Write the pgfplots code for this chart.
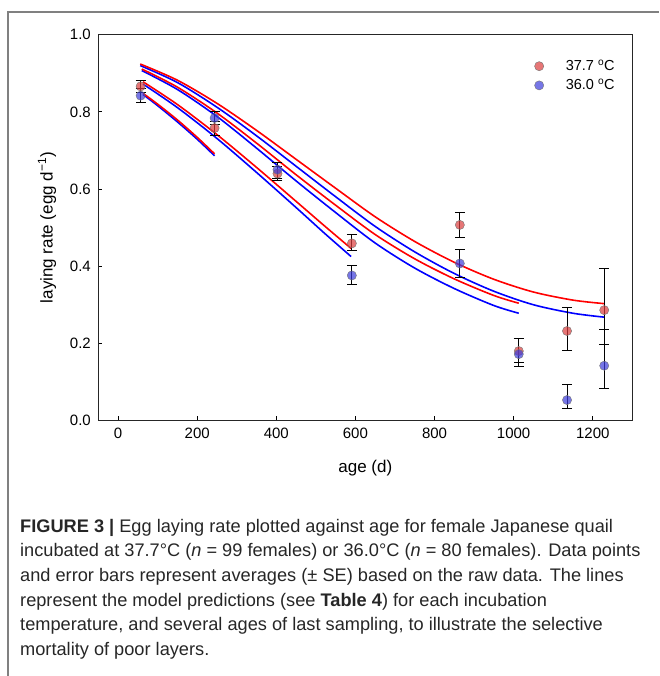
\documentclass[border=0pt]{standalone}
\usepackage{fontspec}
\setmainfont{Liberation Sans}
\usepackage{pgfplots}
\pgfplotsset{compat=1.18}

\definecolor{ptred}{RGB}{220,60,60}
\definecolor{ptblue}{RGB}{60,60,220}

\begin{document}
\begin{tikzpicture}[x=1pt,y=1pt]
\path[use as bounding box] (0,0) rectangle (659,676);
% page frame
\draw[black!50, line width=1.2pt] (8,0) -- (8,664) -- (659,664);

\begin{axis}[
  at={(98.3pt,255.5pt)}, anchor=south west,
  scale only axis, width=534pt, height=385.8pt,
  xmin=-50, xmax=1300, ymin=0, ymax=1,
  xtick={0,200,400,600,800,1000,1200},
  ytick={0,0.2,0.4,0.6,0.8,1.0},
  xtick pos=left, ytick pos=left,
  tick align=inside, major tick length=4pt,
  tick style={black, line width=0.8pt},
  axis line style={black!85, line width=1pt},
  /pgf/number format/assume math mode=true,
  /pgf/number format/1000 sep={},
  yticklabel style={/pgf/number format/.cd, fixed, fixed zerofill, precision=1,
    /tikz/.cd, xshift=-4pt},
  xticklabel style={yshift=-4pt},
  tick label style={font=\fontsize{15}{17}\selectfont},
  xlabel={age (d)},
  ylabel={laying rate (egg d\textsuperscript{−1})},
  label style={font=\fontsize{17}{20}\selectfont},
  xlabel style={at={(axis description cs:0.5,-0.123)}, anchor=center},
  ylabel style={at={(axis description cs:-0.096,0.5)}, anchor=center},
  legend style={at={(0.811,0.945)}, anchor=north west, draw=none, fill=none,
    font=\fontsize{14.5}{17}\selectfont, row sep=3pt},
  legend cell align=left,
]
% model predictions, 36.0 C (one curve per age of last sampling)
\addplot[blue, line width=1.6pt, smooth, forget plot] coordinates {
  (56,0.920) (150,0.876) (250,0.812) (350,0.738) (450,0.659) (550,0.580)
  (650,0.503) (750,0.437) (850,0.381) (950,0.335) (1050,0.300) (1150,0.278) (1228,0.268)};
\addplot[blue, line width=1.6pt, smooth, forget plot] coordinates {
  (60,0.907) (150,0.858) (250,0.788) (350,0.706) (450,0.621) (550,0.539)
  (650,0.460) (750,0.395) (850,0.342) (950,0.298) (1013,0.278)};
\addplot[blue, line width=1.6pt, smooth, forget plot] coordinates {
  (63,0.872) (150,0.811) (250,0.731) (350,0.643) (450,0.552) (520,0.487) (589,0.425)};
\addplot[blue, line width=1.6pt, smooth, forget plot] coordinates {
  (63,0.845) (100,0.816) (150,0.774) (200,0.729) (244,0.686)};
% model predictions, 37.7 C
\addplot[red, line width=1.6pt, smooth, forget plot] coordinates {
  (56,0.924) (150,0.882) (250,0.822) (350,0.752) (450,0.677) (550,0.602)
  (650,0.528) (750,0.464) (850,0.410) (950,0.366) (1050,0.333) (1150,0.312) (1228,0.303)};
\addplot[red, line width=1.6pt, smooth, forget plot] coordinates {
  (60,0.911) (150,0.864) (250,0.797) (350,0.719) (450,0.637) (550,0.558)
  (650,0.482) (750,0.419) (850,0.367) (950,0.324) (1013,0.304)};
\addplot[red, line width=1.6pt, smooth, forget plot] coordinates {
  (63,0.878) (150,0.819) (250,0.741) (350,0.656) (450,0.568) (520,0.506) (589,0.446)};
\addplot[red, line width=1.6pt, smooth, forget plot] coordinates {
  (63,0.848) (100,0.820) (150,0.779) (200,0.734) (244,0.691)};

% averages +- SE
\addplot[only marks, mark=*, mark size=4.6pt,
  mark options={fill=ptred, fill opacity=0.7, draw=black!55, line width=0.4pt},
  error bars/.cd, y dir=both, y explicit, error mark=-,
  error bar style={black, line width=0.8pt},
  error mark options={rotate=90, black, mark size=5pt, line width=0.8pt}]
coordinates {
  (57,0.866) += (0,0.015) -= (0,0.015)
  (244,0.758) += (0,0.018) -= (0,0.018)
  (403,0.640) += (0,0.018) -= (0,0.018)
  (591,0.459) += (0,0.024) -= (0,0.019)
  (864,0.507) += (0,0.033) -= (0,0.033)
  (1013,0.180) += (0,0.033) -= (0,0.030)
  (1135,0.232) += (0,0.060) -= (0,0.050)
  (1229,0.286) += (0,0.108) -= (0,0.088)
};
\addlegendentry{\hspace{20pt}37.7 \textsuperscript{o}C}
\addplot[only marks, mark=*, mark size=4.6pt,
  mark options={fill=ptblue, fill opacity=0.7, draw=black!55, line width=0.4pt},
  error bars/.cd, y dir=both, y explicit, error mark=-,
  error bar style={black, line width=0.8pt},
  error mark options={rotate=90, black, mark size=5pt, line width=0.8pt}]
coordinates {
  (57,0.842) += (0,0.018) -= (0,0.018)
  (244,0.784) += (0,0.017) -= (0,0.017)
  (403,0.650) += (0,0.020) -= (0,0.022)
  (591,0.376) += (0,0.026) -= (0,0.022)
  (864,0.407) += (0,0.037) -= (0,0.037)
  (1013,0.172) += (0,0.041) -= (0,0.033)
  (1135,0.053) += (0,0.040) -= (0,0.021)
  (1229,0.142) += (0,0.095) -= (0,0.059)
};
\addlegendentry{\hspace{20pt}36.0 \textsuperscript{o}C}
\end{axis}

% caption
\node[anchor=north west, align=left, inner sep=0pt, text=black!85,
  font=\fontsize{18.2}{24.6}\selectfont] at (20,157) {%
\textbf{FIGURE 3 |} Egg laying rate plotted against age for female Japanese quail\\
incubated at 37.7°C (\textit{n} = 99 females) or 36.0°C (\textit{n} = 80 females). Data points\\
and error bars represent averages (± SE) based on the raw data. The lines\\
represent the model predictions (see \textbf{Table 4}) for each incubation\\
temperature, and several ages of last sampling, to illustrate the selective\\
mortality of poor layers.};
\end{tikzpicture}
\end{document}
